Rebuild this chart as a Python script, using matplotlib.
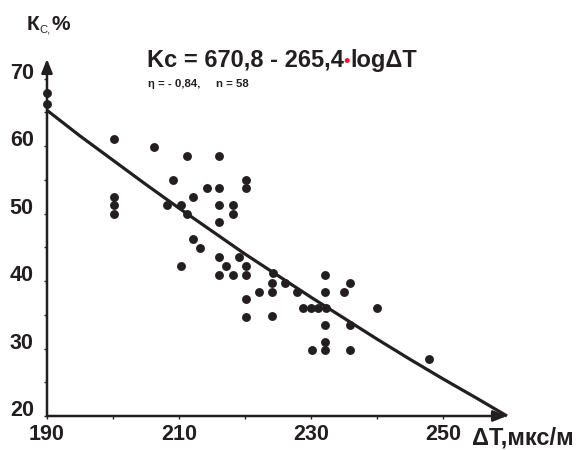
import matplotlib
matplotlib.use('Agg')
import matplotlib.pyplot as plt
import matplotlib.transforms as mtransforms

# ---- data ----
x_vals = [190, 190, 200.2, 200.2, 200.2, 200.2, 206.2, 211.2, 216.1, 209.1,
          214.2, 216.1, 220.2, 220.2, 212.1, 208.2, 210.3, 211.2, 216.1, 218.2,
          218.2, 216.1, 212.1, 213.2, 210.3, 216.1, 217.1, 216.1, 218.2, 219.1,
          220.2, 220.2, 224.2, 224.1, 224.1, 226.1, 222.1, 227.9, 220.2, 220.2,
          224.1, 232.1, 235.9, 232.1, 235.0, 228.8, 230.0, 231.1, 232.3, 240.0,
          232.1, 235.9, 232.1, 230.2, 232.1, 235.9, 247.9]
y_vals = [67.8, 66.3, 61.0, 52.4, 51.3, 49.9, 59.9, 58.5, 58.5, 55.0,
          53.8, 53.8, 55.0, 53.8, 52.4, 51.3, 51.3, 49.9, 51.3, 51.3,
          49.9, 48.7, 46.3, 44.9, 42.2, 43.6, 42.2, 40.9, 40.9, 43.6,
          42.2, 40.9, 41.2, 39.7, 38.4, 39.7, 38.4, 38.4, 37.3, 34.7,
          34.8, 40.9, 39.7, 38.4, 38.4, 36.0, 36.0, 36.0, 36.0, 36.0,
          33.5, 33.5, 31.0, 29.8, 29.8, 29.8, 28.4]

curve_x = [190, 195, 200, 205, 210, 215, 220, 225, 230, 235, 240, 245, 250, 255, 259.7]
curve_y = [65.3, 61.5, 57.9, 54.3, 50.8, 47.4, 44.0, 40.8, 37.6, 34.5, 31.4, 28.4, 25.5, 22.7, 20.0]

xtick_values = [190, 200, 210, 220, 230, 240, 250]
xtick_labels = ['190', '', '210', '', '230', '', '250']
ytick_values = [20, 25, 30, 35, 40, 45, 50, 55, 60, 65, 70]
ytick_labels = ['20', '', '30', '', '40', '', '50', '', '60', '', '70']

y_label_main = 'К'
y_label_sub = 'C,'
y_label_tail = '%'
x_label = 'ΔT,мкс/м'
eq_left = 'Kc = 670,8 - 265,4'
eq_dot = '•'
eq_right = 'logΔT'
stats_text = 'η = - 0,84,     n = 58'

# ---- styling ----
plt.rcParams['font.family'] = ['Liberation Sans', 'DejaVu Sans']
plt.rcParams['font.weight'] = 'bold'
ink = '#231f20'
W, H = 579, 450

fig = plt.figure(figsize=(W / 100, H / 100), dpi=100)
ax = fig.add_axes([47 / W, (H - 416) / H, 460 / W, (416 - 59) / H])
ax.set_xlim(190, 259.7)
ax.set_ylim(20, 72.9)
for s in ax.spines.values():
    s.set_visible(False)

arrow_kw = dict(arrowstyle='-|>,head_length=0.55,head_width=0.22', lw=1.8,
                color=ink, shrinkA=0, shrinkB=0, mutation_scale=15)
ax.annotate('', xy=(1, 0), xytext=(0, 0), xycoords='axes fraction',
            arrowprops=arrow_kw, annotation_clip=False)
ax.annotate('', xy=(0, 1), xytext=(0, 0), xycoords='axes fraction',
            arrowprops=arrow_kw, annotation_clip=False)

ax.plot(curve_x, curve_y, color=ink, lw=2.3, solid_capstyle='butt',
        clip_on=False, zorder=2)
ax.scatter(x_vals, y_vals, s=6.4 ** 2, color=ink, linewidths=0,
           clip_on=False, zorder=3)

ax.set_xticks(xtick_values, xtick_labels)
ax.set_yticks(ytick_values, ytick_labels)
ax.tick_params(axis='both', direction='out', length=2.5, width=1, color=ink,
               labelsize=15.5, labelcolor=ink)
ax.tick_params(axis='x', pad=3)
ax.tick_params(axis='y', pad=7)
for lab in ax.get_xticklabels() + ax.get_yticklabels():
    lab.set_fontweight('bold')
shift = mtransforms.ScaledTranslation(0, 8 / 100, fig.dpi_scale_trans)
for lab in ax.get_yticklabels():
    lab.set_transform(lab.get_transform() + shift)

renderer = fig.canvas.get_renderer()


def chain(x_px, parts):
    x = x_px
    for s, base_px, gap, kw in parts:
        t = fig.text((x + gap) / W, 1 - base_px / H, s, ha='left',
                     va='baseline', **kw)
        bb = t.get_window_extent(renderer)
        x = bb.x1


chain(27, [(y_label_main, 30, 0, dict(fontsize=15, fontweight='bold', color=ink)),
           (y_label_sub, 33, 0, dict(fontsize=8, fontweight='normal', color=ink)),
           (y_label_tail, 30, 1, dict(fontsize=15, fontweight='bold', color=ink))])

chain(147, [(eq_left, 67, 0, dict(fontsize=17, fontweight='bold', color=ink)),
            (eq_dot, 66, 0, dict(fontsize=13, fontweight='bold', color='#e31e24')),
            (eq_right, 67, 0, dict(fontsize=17, fontweight='bold', color=ink))])

fig.text(148 / W, 1 - 87 / H, stats_text, ha='left', va='baseline',
         fontsize=8.2, fontweight='bold', color=ink)

fig.text(472 / W, 1 - 444 / H, x_label, ha='left', va='baseline',
         fontsize=17, fontweight='bold', color=ink)

fig.savefig('out.png', dpi=100)
